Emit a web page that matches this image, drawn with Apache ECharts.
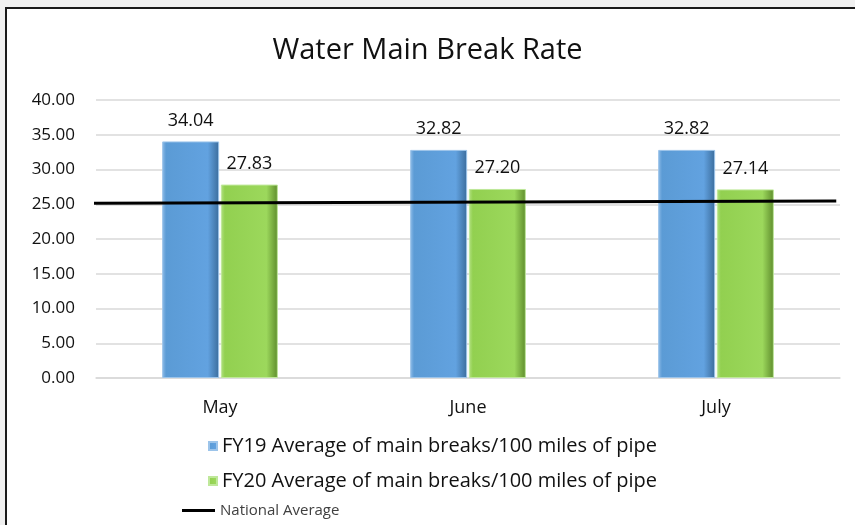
<!DOCTYPE html>
<html>
<head>
<meta charset="utf-8">
<script src="https://cdn.jsdelivr.net/npm/echarts@6/dist/echarts.min.js"></script>
<style>
  html, body { margin: 0; padding: 0; background: #f0f0f0; overflow: hidden; }
  #frame { position: absolute; left: 5px; top: 7px; width: 860px; height: 530px; border: 2px solid #1a1a1a; background: #fff; }
  #chart { position: absolute; left: 0; top: 0; width: 855px; height: 525px; }
</style>
</head>
<body>
<div id="frame"></div>
<div id="chart"></div>
<script>
// chart data
const months = ['May', 'June', 'July']
const fy19 = [34.04, 32.82, 32.82]
const fy20 = [27.83, 27.20, 27.14]
// national average line, drawn edge to edge (x on a hidden 0..1 axis)
const natX = [-0.011, 0.995]
const nationalAverage = [25.15, 25.45]
const yTicks = { min: 0, max: 40, interval: 5 }

const fontFam = '"Open Sans", Lato, sans-serif'

function barFill(light, base, mid, dark) {
  return new echarts.graphic.LinearGradient(0, 0, 1, 0, [
    { offset: 0, color: light },
    { offset: 0.07, color: base },
    { offset: 0.8, color: mid },
    { offset: 1, color: dark }
  ])
}

const chart = echarts.init(document.getElementById('chart'))
chart.setOption({
  backgroundColor: 'transparent',
  title: {
    text: 'Water Main Break Rate',
    left: 'center',
    top: 31,
    textStyle: { fontFamily: fontFam, fontSize: 29, fontWeight: 'normal', color: '#111' }
  },
  grid: { left: 96, right: 15, top: 100, bottom: 147 },
  legend: [{
    orient: 'vertical',
    left: 203,
    top: 431,
    itemGap: 15,
    itemWidth: 8,
    itemHeight: 8,
    icon: 'rect',
    textStyle: { fontFamily: fontFam, fontSize: 20, color: '#111' },
    data: ['FY19 Average of main breaks/100 miles of pipe', 'FY20 Average of main breaks/100 miles of pipe']
  }, {
    left: 177,
    top: 498,
    itemWidth: 33,
    itemHeight: 3,
    icon: 'rect',
    itemGap: 8,
    textStyle: { fontFamily: fontFam, fontSize: 15, color: '#404040' },
    data: ['National Average']
  }],
  xAxis: [{
    type: 'category',
    data: months,
    axisTick: { show: false },
    axisLine: { lineStyle: { color: '#d9d9d9', width: 1.5 } },
    axisLabel: { fontFamily: fontFam, fontSize: 18, color: '#111', margin: 21 }
  }, {
    type: 'value',
    min: 0,
    max: 1,
    show: false
  }],
  yAxis: {
    type: 'value',
    min: yTicks.min,
    max: yTicks.max,
    interval: yTicks.interval,
    axisLine: { show: false },
    axisTick: { show: false },
    splitLine: { lineStyle: { color: '#d9d9d9', width: 1.5 } },
    axisLabel: {
      fontFamily: fontFam, fontSize: 17, color: '#111', margin: 21,
      formatter: v => v.toFixed(2)
    }
  },
  series: [{
    name: 'FY19 Average of main breaks/100 miles of pipe',
    type: 'bar',
    barWidth: 57,
    barGap: '3%',
    data: fy19,
    itemStyle: {
      color: barFill('#8dbbe8', '#5b9bd5', '#62a2e0', '#3b6c9c'),
      borderColor: '#9cc4ea',
      borderWidth: 1
    },
    label: {
      show: true, position: 'top', distance: 12,
      fontFamily: fontFam, fontSize: 18, color: '#111',
      formatter: p => p.value.toFixed(2)
    }
  }, {
    name: 'FY20 Average of main breaks/100 miles of pipe',
    type: 'bar',
    barWidth: 57,
    data: fy20,
    itemStyle: {
      color: barFill('#b4e283', '#92d050', '#9cd85c', '#5e8c2c'),
      borderColor: '#bfe89a',
      borderWidth: 1
    },
    label: {
      show: true, position: 'top', distance: 12,
      fontFamily: fontFam, fontSize: 18, color: '#111',
      formatter: p => p.value.toFixed(2)
    }
  }, {
    name: 'National Average',
    type: 'line',
    xAxisIndex: 1,
    symbol: 'none',
    clip: false,
    z: 5,
    color: '#000',
    lineStyle: { color: '#000', width: 3 },
    data: natX.map((x, i) => [x, nationalAverage[i]])
  }]
})
</script>
</body>
</html>
